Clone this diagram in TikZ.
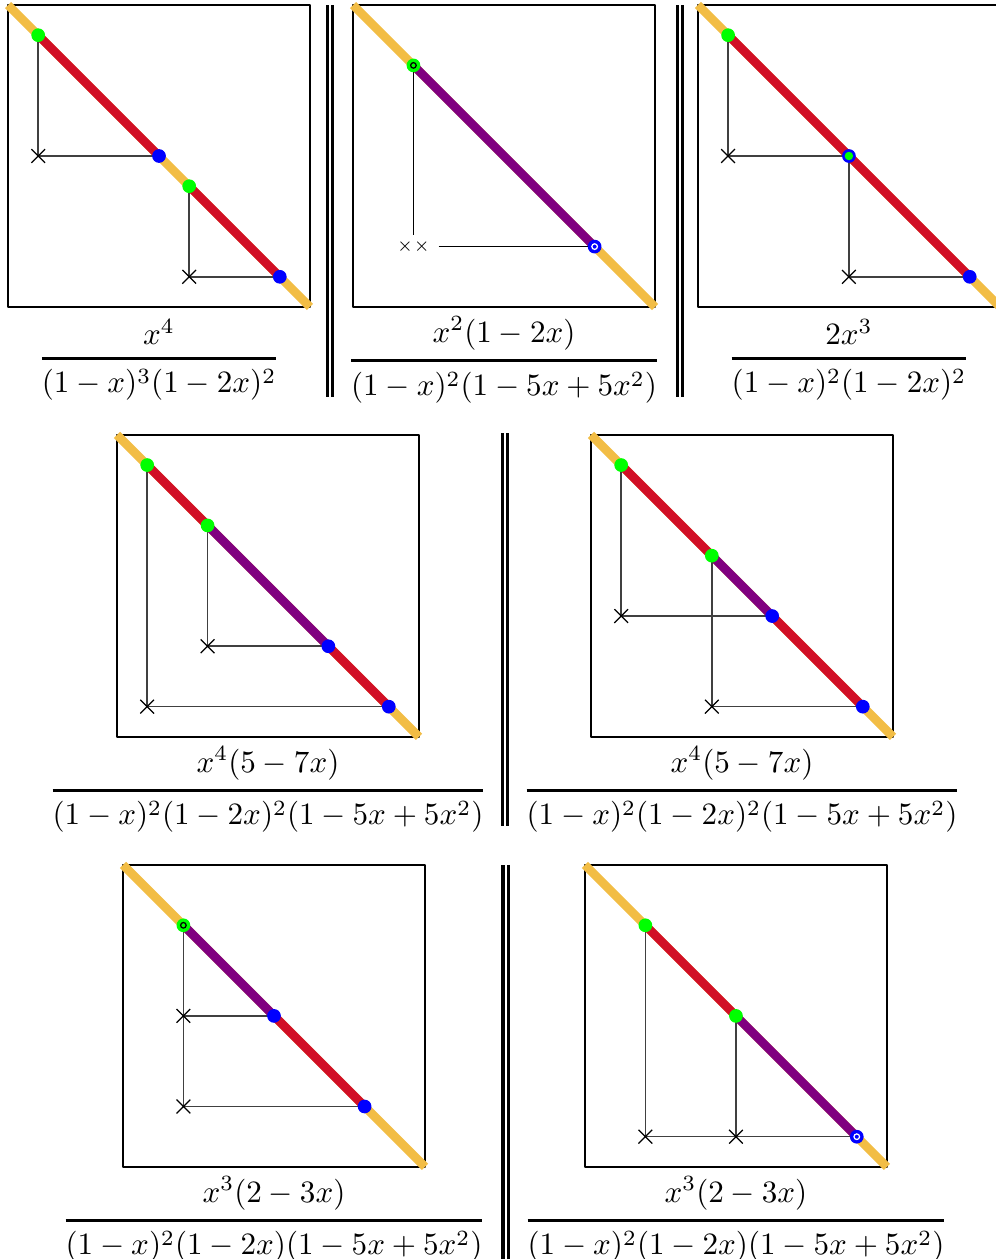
\documentclass[tikz,border=0pt]{standalone}
\usepackage{amsmath}
\usepackage{tkz-euclide}
\usetikzlibrary{calc}
\definecolor{DiagYel}{rgb}{0.95,0.74,0.27}
\definecolor{DiagRed}{rgb}{0.82,0.06,0.15}
\definecolor{DiagPur}{rgb}{0.5,0,0.5}
\definecolor{DotGrn}{rgb}{0,1,0}
\definecolor{DotBlu}{rgb}{0,0,1}
\tikzset{diag/.style={line width=2.8pt,line cap=butt},
  guide/.style={line width=.5pt,color=black!75},
  sep/.style={double,double distance=.8pt,line width=1pt},
  frac/.style={inner sep=0pt}}
\newcommand{\Frac}[2]{$\genfrac{}{}{1pt}{0}{#1}{#2}$}

\begin{document}
\begin{tikzpicture}[x=0.3414cm,y=-0.3414cm]
\useasboundingbox (0,0) rectangle (32.95,41.69);
\tkzSetUpLine[line width=.5pt,color=black]

\begin{scope}[shift={(0.265,0.166)}]
\tkzDefPoints{0/0/O,10/0/P,10/10/Q,0/10/R}
\tkzDefPoints{1/1/G,5/5/B,6/6/H,9/9/C,1/5/U,6/9/V}
\tkzDrawPolygon[line width=.5pt](O,P,Q,R)
\draw[diag,DiagYel] (O) -- (Q);
\draw[diag,DiagRed] (G) -- (B) (H) -- (C);
\tkzDrawSegments[guide](G,U U,B H,V V,C)
\tkzDrawPoints[shape=cross out,size=4,color=black](U,V)
\tkzDrawPoints[size=4,color=DotGrn,fill=DotGrn](G,H)
\tkzDrawPoints[size=4,color=DotBlu,fill=DotBlu](B,C)
\node[frac] (f1) at (5,11.75) {\Frac{x^4}{(1-x)^3(1-2x)^2}};
\end{scope}

\draw[sep] (10.93,0.166) -- (10.93,13.15);

\begin{scope}[shift={(11.69,0.166)}]
\tkzDefPoints{0/0/O,10/0/P,10/10/Q,0/10/R}
\tkzDefPoints{2/2/G,8/8/B}
\tkzDrawPolygon[line width=.5pt](O,P,Q,R)
\draw[diag,DiagYel] (O) -- (Q);
\draw[diag,DiagPur] (G) -- (B);
\node[font=\tiny,inner xsep=2.5pt,inner ysep=1.5pt] (XX) at (2,8) {${\times}{\times}$};
\draw[line width=.5pt] (G) -- (XX) -- (B);
\tkzDrawPoints[size=4,color=DotGrn,fill=DotGrn](G)
\tkzDrawPoints[size=1.8,color=black,fill=DotGrn](G)
\tkzDrawPoints[size=4,color=DotBlu,fill=DotBlu](B)
\tkzDrawPoints[size=1.8,color=white,fill=DotBlu](B)
\node[frac] (f2) at (5,11.75) {\Frac{x^2(1-2x)}{(1-x)^2(1-5x+5x^2)}};
\end{scope}

\draw[sep] (22.52,0.166) -- (22.52,13.15);

\begin{scope}[shift={(23.11,0.166)}]
\tkzDefPoints{0/0/O,10/0/P,10/10/Q,0/10/R}
\tkzDefPoints{1/1/G,5/5/H,9/9/C,1/5/U,5/9/V}
\tkzDrawPolygon[line width=.5pt](O,P,Q,R)
\draw[diag,DiagYel] (O) -- (Q);
\draw[diag,DiagRed] (G) -- (C);
\tkzDrawSegments[guide](G,U U,H H,V V,C)
\tkzDrawPoints[shape=cross out,size=4,color=black](U,V)
\tkzDrawPoints[size=4,color=DotGrn,fill=DotGrn](G)
\tkzDrawPoints[size=4,color=DotBlu,fill=DotBlu](H,C)
\tkzDrawPoints[size=2.3,color=DotGrn,fill=DotGrn](H)
\node[frac] (f3) at (5,11.75) {\Frac{2x^3}{(1-x)^2(1-2x)^2}};
\end{scope}

\begin{scope}[shift={(3.874,14.40)}]
\tkzDefPoints{0/0/O,10/0/P,10/10/Q,0/10/R}
\tkzDefPoints{1/1/G,3/3/H,7/7/B,9/9/C,1/9/U,3/7/V}
\tkzDrawPolygon[line width=.5pt](O,P,Q,R)
\draw[diag,DiagYel] (O) -- (Q);
\draw[diag,DiagRed] (G) -- (H) (B) -- (C);
\draw[diag,DiagPur] (H) -- (B);
\tkzDrawSegments[guide](G,U U,C H,V V,B)
\tkzDrawPoints[shape=cross out,size=4,color=black](U,V)
\tkzDrawPoints[size=4,color=DotGrn,fill=DotGrn](G,H)
\tkzDrawPoints[size=4,color=DotBlu,fill=DotBlu](B,C)
\node[frac] (f4) at (5,11.75) {\Frac{x^4(5-7x)}{(1-x)^2(1-2x)^2(1-5x+5x^2)}};
\end{scope}

\draw[sep] (16.72,14.34) -- (16.72,27.35);

\begin{scope}[shift={(19.57,14.40)}]
\tkzDefPoints{0/0/O,10/0/P,10/10/Q,0/10/R}
\tkzDefPoints{1/1/G,4/4/H,6/6/B,9/9/C,1/6/U,4/9/V}
\tkzDrawPolygon[line width=.5pt](O,P,Q,R)
\draw[diag,DiagYel] (O) -- (Q);
\draw[diag,DiagRed] (G) -- (H) (B) -- (C);
\draw[diag,DiagPur] (H) -- (B);
\tkzDrawSegments[guide](G,U U,B H,V V,C)
\tkzDrawPoints[shape=cross out,size=4,color=black](U,V)
\tkzDrawPoints[size=4,color=DotGrn,fill=DotGrn](G,H)
\tkzDrawPoints[size=4,color=DotBlu,fill=DotBlu](B,C)
\node[frac] (f5) at (5,11.75) {\Frac{x^4(5-7x)}{(1-x)^2(1-2x)^2(1-5x+5x^2)}};
\end{scope}

\begin{scope}[shift={(4.073,28.64)}]
\tkzDefPoints{0/0/O,10/0/P,10/10/Q,0/10/R}
\tkzDefPoints{2/2/G,5/5/B,8/8/C,2/5/U,2/8/V}
\tkzDrawPolygon[line width=.5pt](O,P,Q,R)
\draw[diag,DiagYel] (O) -- (Q);
\draw[diag,DiagPur] (G) -- (B);
\draw[diag,DiagRed] (B) -- (C);
\tkzDrawSegments[guide](G,U U,V U,B V,C)
\tkzDrawPoints[shape=cross out,size=4,color=black](U,V)
\tkzDrawPoints[size=4,color=DotGrn,fill=DotGrn](G)
\tkzDrawPoints[size=1.8,color=black,fill=DotGrn](G)
\tkzDrawPoints[size=4,color=DotBlu,fill=DotBlu](B,C)
\node[frac] (f6) at (5,11.75) {\Frac{x^3(2-3x)}{(1-x)^2(1-2x)(1-5x+5x^2)}};
\end{scope}

\draw[sep] (16.75,28.64) -- (16.75,41.69);

\begin{scope}[shift={(19.37,28.64)}]
\tkzDefPoints{0/0/O,10/0/P,10/10/Q,0/10/R}
\tkzDefPoints{2/2/G,5/5/H,9/9/B,2/9/U,5/9/V}
\tkzDrawPolygon[line width=.5pt](O,P,Q,R)
\draw[diag,DiagYel] (O) -- (Q);
\draw[diag,DiagRed] (G) -- (H);
\draw[diag,DiagPur] (H) -- (B);
\tkzDrawSegments[guide](G,U U,V V,B H,V)
\tkzDrawPoints[shape=cross out,size=4,color=black](U,V)
\tkzDrawPoints[size=4,color=DotGrn,fill=DotGrn](G,H)
\tkzDrawPoints[size=4,color=DotBlu,fill=DotBlu](B)
\tkzDrawPoints[size=1.8,color=white,fill=DotBlu](B)
\node[frac] (f7) at (5,11.75) {\Frac{x^3(2-3x)}{(1-x)^2(1-2x)(1-5x+5x^2)}};
\end{scope}

\end{tikzpicture}
\end{document}
